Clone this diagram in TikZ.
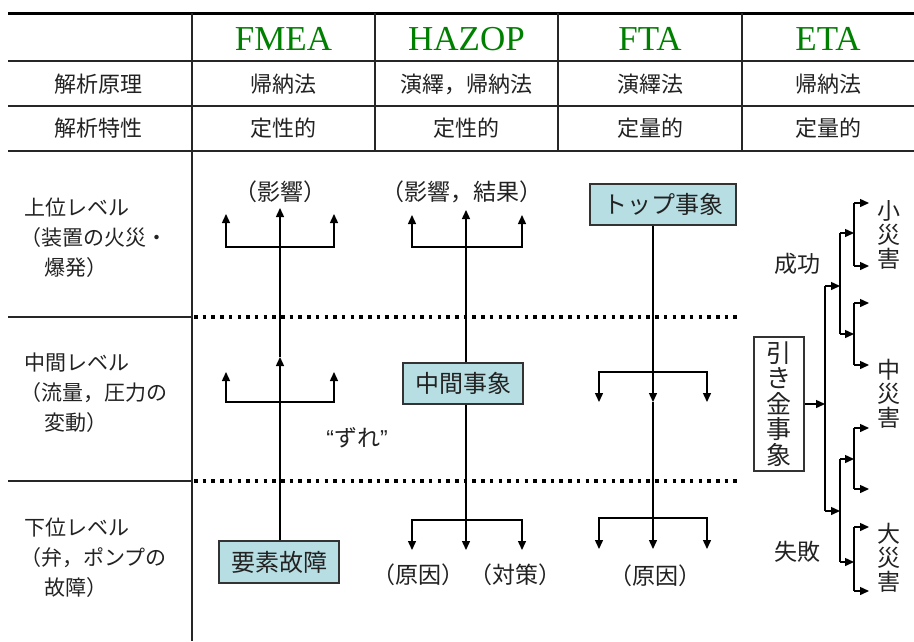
\documentclass[tikz,border=0pt]{standalone}
\usepackage{fontspec}
\setmainfont{Noto Sans CJK JP}
\newfontfamily\hdfont{Liberation Serif}
\newfontfamily\latinq{Liberation Sans}
\usetikzlibrary{arrows.meta}
\definecolor{hdgreen}{RGB}{0,128,0}
\definecolor{boxfill}{HTML}{B7DFE3}
\definecolor{txt}{HTML}{222222}
\begin{document}
\begin{tikzpicture}[x=1pt,y=-1pt,
  every node/.style={inner sep=0pt, text=txt},
  ln/.style={line width=1.4pt, draw=black},
  tbl/.style={line width=1.3pt, draw=black!85},
  arr/.style={ln, -{Triangle[length=9pt,width=8pt]}},
  dots/.style={line width=3.5pt, dash pattern=on 3.5pt off 5.2pt},
  hd/.style={font=\hdfont\fontsize{35}{35}\selectfont, text=hdgreen},
  cell/.style={font=\fontsize{22}{22}\selectfont},
  lvl/.style={font=\fontsize{21}{30}\selectfont, align=left, anchor=west},
  lbl/.style={font=\fontsize{23}{23}\selectfont},
  evbox/.style={draw=black!80, line width=1.3pt, fill=boxfill, font=\fontsize{24}{24}\selectfont},
  vtext/.style={font=\fontsize{23}{24}\selectfont, align=center},
]
\useasboundingbox (0,0) rectangle (914,641);
% ---- table ----
\draw[line width=3pt] (8,13) -- (914,13);
\foreach \yy in {61,106,151} \draw[tbl] (8,\yy) -- (914,\yy);
\draw[tbl] (192,13) -- (192,641);
\foreach \xx in {375,558,742} \draw[tbl] (\xx,13) -- (\xx,151);
\draw[tbl] (8,317) -- (192,317);
\draw[tbl] (8,481) -- (192,481);
\draw[dots] (194,317) -- (738,317);
\draw[dots] (194,481) -- (738,481);
% headers
\node[hd] (hFMEA) at (283.5,39) {FMEA};
\node[hd] (hHAZOP) at (466.5,39) {HAZOP};
\node[hd] (hFTA) at (650,39) {FTA};
\node[hd] (hETA) at (828,39) {ETA};
% rows
\node[cell] (r1) at (98.5,84) {解析原理};
\node[cell] (r1a) at (283.5,84) {帰納法};
\node[cell] (r1b) at (466.5,84) {演繹，帰納法};
\node[cell] (r1c) at (650,84) {演繹法};
\node[cell] (r1d) at (828,84) {帰納法};
\node[cell] (r2) at (98.5,128.5) {解析特性};
\node[cell] (r2a) at (283.5,128.5) {定性的};
\node[cell] (r2b) at (466.5,128.5) {定性的};
\node[cell] (r2c) at (650,128.5) {定量的};
\node[cell] (r2d) at (828,128.5) {定量的};
% level labels
\node[lvl] (lvTop) at (20,238) {\hspace*{4pt}上位レベル\\（装置の火災・\\\hspace*{24pt}爆発）};
\node[lvl] (lvMid) at (20,393) {\hspace*{4pt}中間レベル\\（流量，圧力の\\\hspace*{24pt}変動）};
\node[lvl] (lvLow) at (20,558) {\hspace*{4pt}下位レベル\\（弁，ポンプの\\\hspace*{24pt}故障）};
% ---- FMEA ----
\node[evbox, minimum width=120pt, minimum height=42pt] (elem) at (279,562) {要素故障};
\node[lbl] (fEff) at (280,192) {（影響）};
\node[lbl] (zure) at (357,438) {{\latinq “}ずれ{\latinq ”}};
\coordinate (fTop) at (280,208);
\coordinate (fMid) at (280,357);
\draw[arr] (elem.north -| fTop) -- (fMid);
\draw[arr] (fMid) -- (fTop);
\coordinate (fTH) at (280,247);
\coordinate (fTL) at (226,214);
\coordinate (fTR) at (334,214);
\draw[arr] (fTH) -| (fTL);
\draw[arr] (fTH) -| (fTR);
\coordinate (fMH) at (280,402);
\coordinate (fML) at (226,372);
\coordinate (fMR) at (334,372);
\draw[arr] (fMH) -| (fML);
\draw[arr] (fMH) -| (fMR);
% ---- HAZOP ----
\node[lbl] (hEff) at (462,192) {（影響，結果）};
\node[evbox, minimum width=120pt, minimum height=41pt] (midev) at (463,383.5) {中間事象};
\coordinate (hTop) at (466,210);
\coordinate (hBot) at (466,550);
\draw[arr] (midev.north -| hTop) -- (hTop);
\draw[arr] (midev.south -| hBot) -- (hBot);
\coordinate (hTH) at (466,247);
\coordinate (hTL) at (412,215);
\coordinate (hTR) at (522,215);
\draw[arr] (hTH) -| (hTL);
\draw[arr] (hTH) -| (hTR);
\coordinate (hBH) at (466,520);
\coordinate (hBL) at (412,550);
\coordinate (hBR) at (522,550);
\draw[arr] (hBH) -| (hBL);
\draw[arr] (hBH) -| (hBR);
\node[lbl] (hCause) at (418,575) {（原因）};
\node[lbl] (hMeas) at (515,575) {（対策）};
% ---- FTA ----
\node[evbox, minimum width=146pt, minimum height=41pt] (topev) at (663,204.5) {トップ事象};
\coordinate (tMid) at (653,402);
\coordinate (tBot) at (653,549);
\draw[arr] (topev.south -| tMid) -- (tMid);
\draw[arr] (tMid) -- (tBot);
\coordinate (tMH) at (653,372);
\coordinate (tML) at (599,402);
\coordinate (tMR) at (707,402);
\draw[arr] (tMH) -| (tML);
\draw[arr] (tMH) -| (tMR);
\coordinate (tBH) at (653,518);
\coordinate (tBL) at (599,549);
\coordinate (tBR) at (707,549);
\draw[arr] (tBH) -| (tBL);
\draw[arr] (tBH) -| (tBR);
\node[lbl] (tCause) at (655,576) {（原因）};
% ---- ETA ----
\node[draw=black!80, line width=1.3pt, minimum width=50pt, minimum height=134pt,
      font=\fontsize{25}{25.5}\selectfont, align=center] (trig) at (779,404) {引\\き\\金\\事\\象};
\coordinate (e0) at (825,402);
\draw[arr] (trig.east) -- (trig.east -| e0);
\coordinate (a1) at (825,286);
\coordinate (a2) at (825,511);
\draw[ln] (a1) -- (a2);
\coordinate (b1) at (840,286);
\coordinate (b2) at (840,511);
\draw[arr] (a1) -- (b1);
\draw[arr] (a2) -- (b2);
\draw[ln] (840,233) -- (840,334);
\draw[ln] (840,459) -- (840,562);
\foreach \yy in {233,334,459,562} \draw[arr] (840,\yy) -- (854,\yy);
\foreach \ya/\yb in {203/266,303/365,428/489,527/591} {
  \draw[ln] (854,\ya) -- (854,\yb);
  \draw[arr] (854,\ya) -- (869,\ya);
  \draw[arr] (854,\yb) -- (869,\yb);
}
\node[vtext] (small) at (889,235) {小\\災\\害};
\node[vtext] (medium) at (889,394) {中\\災\\害};
\node[vtext] (large) at (889,558) {大\\災\\害};
\node[font=\fontsize{23}{23}\selectfont] (succ) at (797,264) {成功};
\node[font=\fontsize{23}{23}\selectfont] (fail) at (797,552) {失敗};
\end{tikzpicture}
\end{document}
